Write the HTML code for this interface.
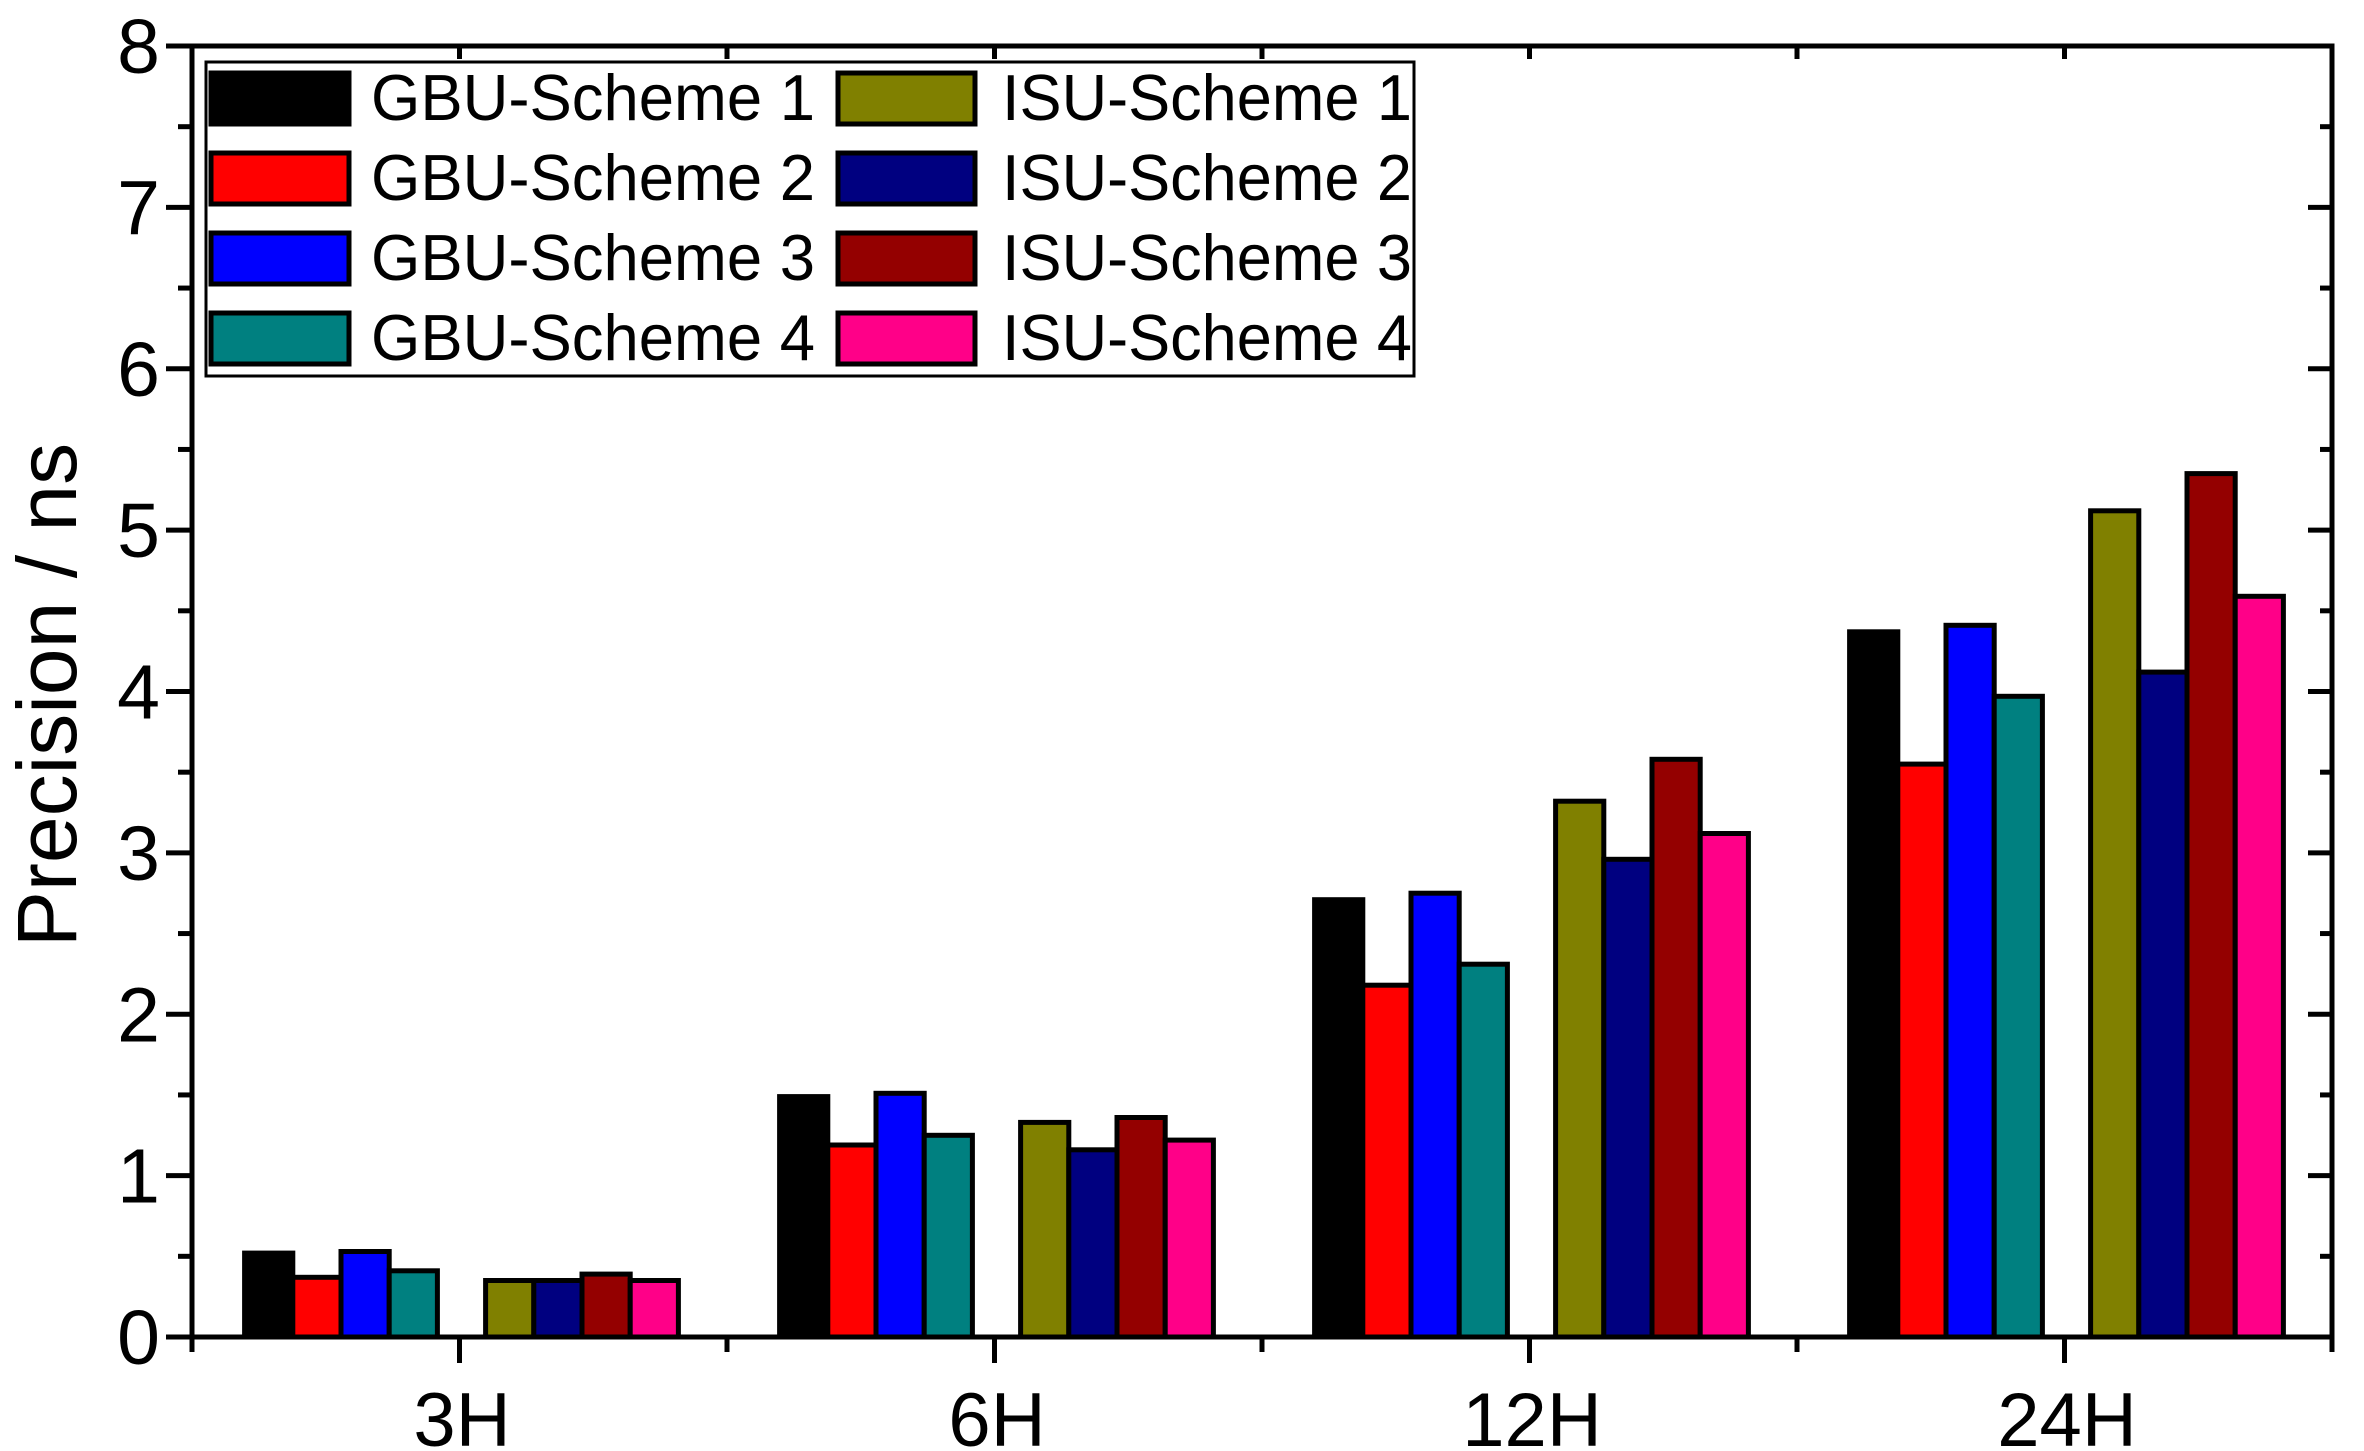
<!DOCTYPE html>
<html><head><meta charset="utf-8"><style>html,body{margin:0;padding:0;background:#fff}svg{display:block}</style></head>
<body>
<svg width="2364" height="1451" viewBox="0 0 2364 1451" xmlns="http://www.w3.org/2000/svg" font-family="Liberation Sans, Arial, sans-serif">
<rect width="2364" height="1451" fill="#fff"/>
<g id="bars" stroke="#000" stroke-width="5"></g>
<g stroke="#000" stroke-width="5" fill="none" id="axes">
<rect x="192" y="46" width="2140" height="1291"/>
</g>
<g id="ticks" stroke="#000" stroke-width="5"></g>
<g font-size="77" text-anchor="end" id="ylab"></g>
<g font-size="76" text-anchor="middle">
<text x="462" y="1446">3H</text>
<text x="997" y="1446">6H</text>
<text x="1532" y="1446">12H</text>
<text x="2067" y="1446">24H</text>
</g>
<text transform="translate(76,695) rotate(-90)" font-size="84" text-anchor="middle">Precision / ns</text>
<g>
<rect x="206" y="62" width="1208" height="314" fill="#fff" stroke="#000" stroke-width="3"/>
<g stroke="#000" stroke-width="5">
<rect x="211" y="73" width="138" height="51" fill="#000"/>
<rect x="211" y="153" width="138" height="51" fill="#ff0000"/>
<rect x="211" y="233" width="138" height="51" fill="#0000ff"/>
<rect x="211" y="313" width="138" height="51" fill="#008080"/>
<rect x="838" y="73" width="137" height="51" fill="#808000"/>
<rect x="838" y="153" width="137" height="51" fill="#000080"/>
<rect x="838" y="233" width="137" height="51" fill="#940000"/>
<rect x="838" y="313" width="137" height="51" fill="#ff0088"/>
</g>
<g font-size="65">
<text x="371" y="120" textLength="444" lengthAdjust="spacingAndGlyphs">GBU-Scheme 1</text>
<text x="371" y="200" textLength="444" lengthAdjust="spacingAndGlyphs">GBU-Scheme 2</text>
<text x="371" y="280" textLength="444" lengthAdjust="spacingAndGlyphs">GBU-Scheme 3</text>
<text x="371" y="360" textLength="444" lengthAdjust="spacingAndGlyphs">GBU-Scheme 4</text>
<text x="1002" y="120" textLength="410" lengthAdjust="spacingAndGlyphs">ISU-Scheme 1</text>
<text x="1002" y="200" textLength="410" lengthAdjust="spacingAndGlyphs">ISU-Scheme 2</text>
<text x="1002" y="280" textLength="410" lengthAdjust="spacingAndGlyphs">ISU-Scheme 3</text>
<text x="1002" y="360" textLength="410" lengthAdjust="spacingAndGlyphs">ISU-Scheme 4</text>
</g>
</g>
<script>
var ns="http://www.w3.org/2000/svg";
function el(p,t,a,txt){var e=document.createElementNS(ns,t);for(var k in a)e.setAttribute(k,a[k]);if(txt!==undefined)e.textContent=txt;p.appendChild(e);return e;}
var Y0=1337,S=161.375;
var cols=["#000000","#ff0000","#0000ff","#008080","#808000","#000080","#940000","#ff0088"];
var data=[[0.52,0.37,0.53,0.41,0.35,0.35,0.39,0.35],[1.49,1.19,1.51,1.25,1.33,1.16,1.36,1.22],[2.71,2.18,2.75,2.31,3.32,2.96,3.58,3.12],[4.37,3.55,4.41,3.97,5.12,4.12,5.35,4.59]];
var bars=document.getElementById("bars"),w=48.2;
for(var g=0;g<4;g++){var c=192+267.5*(2*g+1);var x0=c-4.5*w+2;
for(var i=0;i<8;i++){var x=x0+(i<4?i:i+1)*w;var h=data[g][i]*S;
el(bars,"rect",{x:x.toFixed(1),y:(Y0-h).toFixed(1),width:w.toFixed(1),height:h.toFixed(1),fill:cols[i]});}}
var t=document.getElementById("ticks"),yl=document.getElementById("ylab");
for(var v=0;v<=16;v++){var y=Y0-v*S/2;var maj=v%2==0;
el(t,"line",{x1:192-(maj?26:14),y1:y,x2:192,y2:y});
el(t,"line",{x1:2332,y1:y,x2:2332-(maj?24:12),y2:y});
if(maj)el(yl,"text",{x:160,y:y+27},String(v/2));}
for(var k=0;k<=8;k++){var x=192+267.5*k;var maj=k%2==1;
el(t,"line",{x1:x,y1:Y0,x2:x,y2:Y0+(maj?26:15)});
el(t,"line",{x1:x,y1:46,x2:x,y2:46+13});}
</script>
</svg>
</body></html>
